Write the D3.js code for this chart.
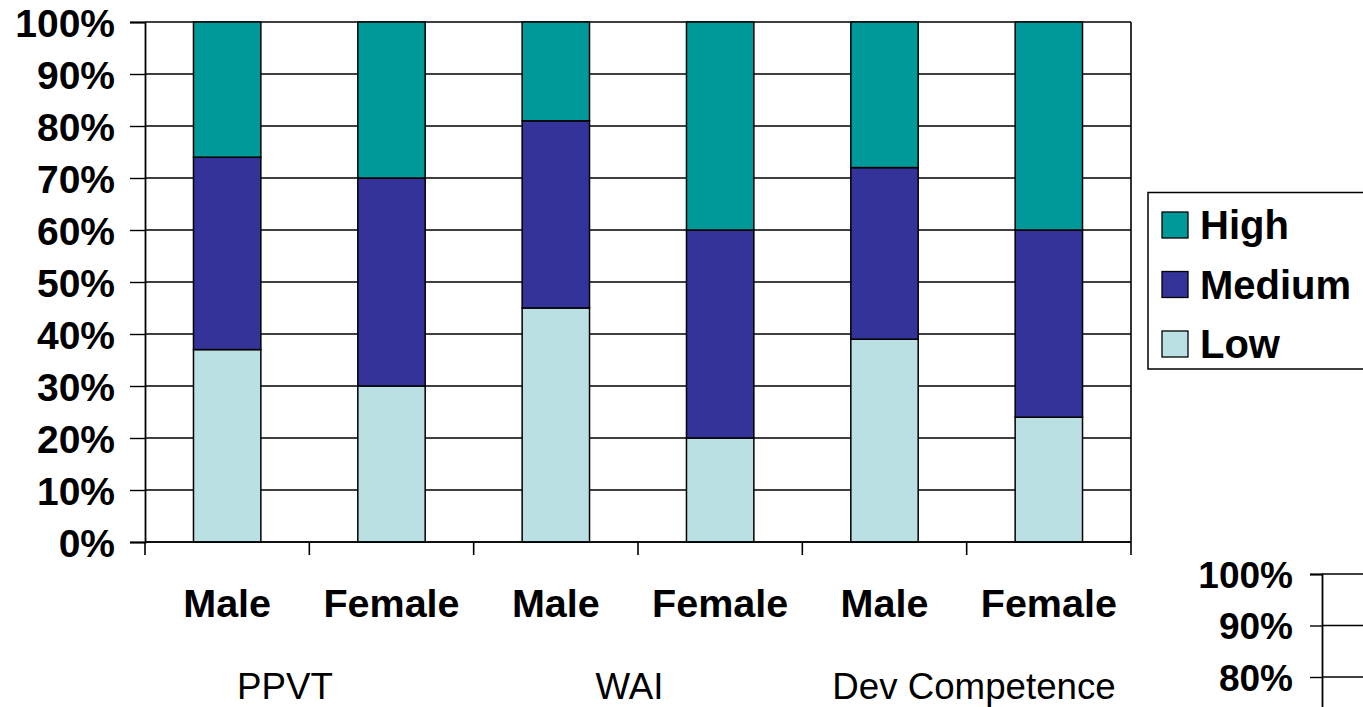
<!DOCTYPE html>
<html>
<head>
<meta charset="utf-8">
<script src="https://cdn.jsdelivr.net/npm/d3@7"></script>
<style>
  html, body { margin: 0; padding: 0; background: #fff; overflow: hidden; }
  svg { display: block; font-family: "Liberation Sans", Arial, sans-serif; }
</style>
</head>
<body>
<svg id="chart" width="1363" height="707"></svg>
<script>
// ---- data ----
const groups = ["PPVT", "WAI", "Dev Competence"];
const genders = ["Male", "Female"];
const seriesNames = ["Low", "Medium", "High"];
const lowValues = [37, 30, 45, 20, 39, 24];
const mediumValues = [37, 40, 36, 40, 33, 36];
const highValues = [26, 30, 19, 40, 28, 40];
const yTickValues = [0, 10, 20, 30, 40, 50, 60, 70, 80, 90, 100];
const secondYTickValues = [80, 90, 100];
const colors = { High: "#009999", Medium: "#333399", Low: "#BBE0E3" };

(function () {
// ---- build rows ----
const rows = [];
groups.forEach((g, gi) => {
  genders.forEach((s, si) => {
    const i = gi * genders.length + si;
    rows.push({ id: g + "|" + s, group: g, gender: s,
      Low: lowValues[i], Medium: mediumValues[i], High: highValues[i] });
  });
});

const svg = d3.select("#chart");
const plotLeft = 145, plotRight = 1131, plotTop = 22, plotBottom = 542;

const x = d3.scaleBand()
  .domain(rows.map(d => d.id))
  .range([plotLeft, plotRight])
  .paddingInner(0.59)
  .paddingOuter(0.295);
const y = d3.scaleLinear().domain([0, 100]).range([plotBottom, plotTop]);

const step = x.step();
const boundary = i => plotLeft + i * step;

// gridlines
svg.append("g").selectAll("line").data(yTickValues).join("line")
  .attr("x1", plotLeft).attr("x2", plotRight)
  .attr("y1", d => y(d)).attr("y2", d => y(d))
  .attr("stroke", "#000").attr("stroke-width", 1.4);

// right border
svg.append("line").attr("x1", plotRight).attr("x2", plotRight)
  .attr("y1", y(100)).attr("y2", y(0))
  .attr("stroke", "#000").attr("stroke-width", 1.6);

// stacked bars
const stack = d3.stack().keys(seriesNames);
const stacked = stack(rows);
svg.append("g").selectAll("g").data(stacked).join("g")
  .attr("fill", d => colors[d.key])
  .selectAll("rect").data(d => d).join("rect")
  .attr("x", d => x(d.data.id))
  .attr("width", x.bandwidth())
  .attr("y", d => y(d[1]))
  .attr("height", d => y(d[0]) - y(d[1]))
  .attr("stroke", "#000").attr("stroke-width", 1.5);

// y axis
const yAxis = d3.axisLeft(y).tickValues(yTickValues).tickSize(15).tickPadding(15)
  .tickFormat(d => d + "%");
const yg = svg.append("g").attr("transform", `translate(${plotLeft},0)`).call(yAxis);
yg.select(".domain").attr("stroke", "#000").attr("stroke-width", 1.8);
yg.selectAll(".tick line").attr("stroke", "#000").attr("stroke-width", 1.4);
yg.selectAll(".tick text").attr("font-size", 39).attr("font-weight", "bold")
  .attr("fill", "#000").attr("font-family", "'Liberation Sans', Arial, sans-serif")
  .attr("dy", "0.36em");

// x axis line + boundary ticks
svg.append("line").attr("x1", plotLeft).attr("x2", plotRight)
  .attr("y1", plotBottom).attr("y2", plotBottom)
  .attr("stroke", "#000").attr("stroke-width", 1.6);
svg.append("g").selectAll("line").data(d3.range(rows.length + 1)).join("line")
  .attr("x1", i => boundary(i)).attr("x2", i => boundary(i))
  .attr("y1", plotBottom).attr("y2", plotBottom + 13)
  .attr("stroke", "#000").attr("stroke-width", 1.6);

// gender labels
svg.append("g").selectAll("text").data(rows).join("text")
  .attr("x", d => x(d.id) + x.bandwidth() / 2)
  .attr("y", 617)
  .attr("text-anchor", "middle")
  .attr("font-size", 39.5).attr("font-weight", "bold").attr("fill", "#000")
  .text(d => d.gender);

// group labels
const gx = d3.scalePoint().domain(groups).range([285, 974]);
svg.append("g").selectAll("text").data(groups).join("text")
  .attr("x", d => gx(d))
  .attr("y", 699)
  .attr("text-anchor", "middle")
  .attr("font-size", 36.7).attr("fill", "#000")
  .text(d => d);

// legend
const legend = svg.append("g");
legend.append("rect").attr("x", 1148).attr("y", 192.5).attr("width", 240).attr("height", 176.5)
  .attr("fill", "#fff").attr("stroke", "#000").attr("stroke-width", 1.5);
const legendItems = seriesNames.slice().reverse();
const ly = d3.scalePoint().domain(legendItems).range([225, 344]);
legend.selectAll("rect.sw").data(legendItems).join("rect").attr("class", "sw")
  .attr("x", 1162).attr("y", d => ly(d) - 13).attr("width", 26).attr("height", 26)
  .attr("fill", d => colors[d]).attr("stroke", "#000").attr("stroke-width", 1.3);
legend.selectAll("text").data(legendItems).join("text")
  .attr("x", 1200).attr("y", d => ly(d)).attr("dy", "0.36em")
  .attr("font-size", 40).attr("font-weight", "bold").attr("fill", "#000")
  .text(d => d);

// second chart fragment (bottom right)
const y2 = d3.scaleLinear().domain([0, 100]).range([574 + 10 * 51.5, 574]);
const y2Axis = d3.axisLeft(y2).tickValues(secondYTickValues).tickSize(12).tickPadding(17)
  .tickFormat(d => d + "%");
const y2g = svg.append("g").attr("transform", "translate(1322,0)").call(y2Axis);
y2g.select(".domain").attr("stroke", "#000").attr("stroke-width", 1.8);
y2g.selectAll(".tick line").attr("stroke", "#000").attr("stroke-width", 1.4);
y2g.selectAll(".tick text").attr("font-size", 37).attr("font-weight", "bold")
  .attr("fill", "#000").attr("font-family", "'Liberation Sans', Arial, sans-serif")
  .attr("dy", "0.36em");
svg.append("g").selectAll("line").data(secondYTickValues).join("line")
  .attr("x1", 1322).attr("x2", 1400)
  .attr("y1", d => y2(d)).attr("y2", d => y2(d))
  .attr("stroke", "#000").attr("stroke-width", 1.4);
})();
</script>
</body>
</html>
